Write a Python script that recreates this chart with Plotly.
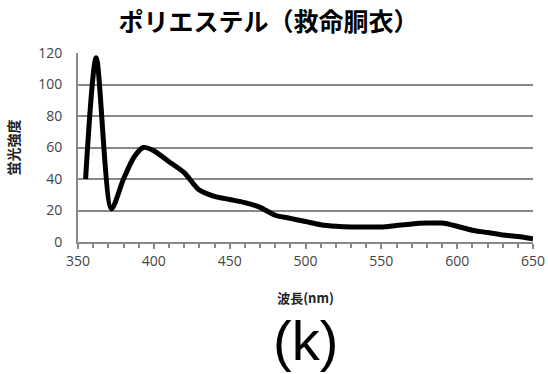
import plotly.graph_objects as go

wavelength = [355, 362, 372, 380, 387, 393, 400, 410, 420, 430, 440, 450, 460, 470, 480, 490,
              500, 510, 520, 530, 540, 550, 560, 570, 580, 590, 600, 610, 620, 630, 640, 650]
intensity = [40, 117, 21, 40, 54, 60, 58, 51, 44, 33, 29, 27, 25, 22, 17, 15,
             13, 11, 10, 9.5, 9.5, 9.5, 10.5, 11.5, 12, 12, 10, 7.5, 6, 4.5, 3.5, 2]
x_ticks = [350, 400, 450, 500, 550, 600, 650]
y_ticks = [0, 20, 40, 60, 80, 100, 120]

title_text = "ポリエステル（救命胴衣）"
x_title = "波長(nm)"
y_title = "蛍光強度"
label_text = "(k)"

fig = go.Figure()
fig.add_trace(go.Scatter(
    x=wavelength, y=intensity, mode="lines",
    line=dict(color="black", width=5, shape="spline", smoothing=0.8),
    showlegend=False, cliponaxis=False,
))

fig.update_layout(
    width=548, height=374,
    margin=dict(l=78, r=15, t=53, b=132),
    paper_bgcolor="white", plot_bgcolor="white",
    font=dict(family="Open Sans, Noto Sans CJK JP", color="#444"),
    title=dict(text="<b>" + title_text + "</b>", x=0.49, xanchor="center", y=0.94, yanchor="middle",
               font=dict(family="Noto Sans CJK JP", size=25, color="black")),
    xaxis=dict(
        range=[350, 650], tickvals=x_ticks, showgrid=False, automargin=False,
        showline=True, linecolor="#888", linewidth=2,
        ticks="outside", ticklen=5, tickcolor="#888", tickwidth=2,
        minor=dict(dtick=10, ticks="outside", ticklen=4, tickcolor="#888", tickwidth=1.5),
        tickfont=dict(size=14, color="#444"),
        title=dict(text="<b>" + x_title + "</b>", standoff=25,
                   font=dict(family="Noto Sans CJK JP", size=13, color="#222")),
        zeroline=False,
    ),
    yaxis=dict(
        range=[0, 120], tickvals=y_ticks, showgrid=True, gridcolor="#888", gridwidth=2,
        showline=True, linecolor="#888", linewidth=2, automargin=False,
        ticks="", ticklabelstandoff=11, tickfont=dict(size=14, color="#444"),
        title=dict(text="<b>" + y_title + "</b>", standoff=15,
                   font=dict(family="Noto Sans CJK JP", size=14, color="#222")),
        zeroline=False,
    ),
    annotations=[dict(
        text=label_text, xref="paper", yref="paper", x=0.5, y=-0.52,
        xanchor="center", yanchor="middle", showarrow=False,
        font=dict(family="Liberation Sans", size=56, color="black"),
    )],
)

fig.write_html("out.html", config={"displayModeBar": False},
               post_script="document.body.style.margin='0';document.body.style.overflow='hidden';")
